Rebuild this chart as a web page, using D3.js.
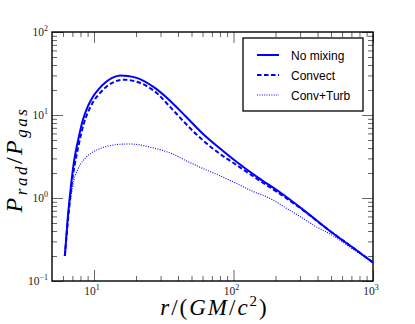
<!DOCTYPE html>
<html>
<head>
<meta charset="utf-8">
<script src="https://cdn.jsdelivr.net/npm/d3@7"></script>
<style>
  body { margin: 0; background: #fff; }
</style>
</head>
<body>
<script>
// values (r in GM/c^2, ratio P_rad/P_gas)
var rNoMix = [6.18, 6.5, 6.9, 7.2, 7.7, 8.3, 9.0, 9.8, 10.8, 12.0, 13.5, 15.4, 17.5, 20.5, 27, 34.6, 45, 60, 80, 105, 150, 214, 320, 491, 700, 1000];
var pNoMix = [0.2, 0.6, 1.6, 2.8, 5.0, 8.6, 12.5, 16.5, 20.5, 24.5, 28, 30, 29.6, 27.8, 21.5, 15.2, 9.8, 6.0, 3.95, 2.74, 1.76, 1.18, 0.71, 0.40, 0.26, 0.167];

var rConvect = [6.18, 6.55, 6.95, 7.3, 7.8, 8.4, 9.1, 9.9, 10.9, 12.1, 13.6, 16.4, 20.5, 27, 36.6, 45, 60, 80, 105, 160, 214, 320, 491, 700, 1000];
var pConvect = [0.2, 0.6, 1.55, 2.6, 4.5, 7.6, 11, 14.5, 18, 21.5, 24.5, 26.6, 25.0, 19.5, 11.6, 8.0, 5.0, 3.4, 2.5, 1.55, 1.13, 0.70, 0.40, 0.26, 0.167];

var rTurb = [6.18, 6.45, 6.84, 7.18, 7.6, 8.0, 8.7, 9.5, 10.5, 11.8, 13.5, 15.5, 17.9, 21, 24.5, 30, 36.6, 45, 60, 80, 105, 135, 182, 250, 320, 392, 491, 700, 1000];
var pTurb = [0.2, 0.55, 1.04, 1.65, 2.15, 2.55, 3.05, 3.45, 3.8, 4.1, 4.32, 4.45, 4.47, 4.38, 4.15, 3.8, 3.4, 2.85, 2.28, 1.85, 1.50, 1.22, 0.99, 0.72, 0.56, 0.45, 0.37, 0.25, 0.165];

var seriesNames = ["No mixing", "Convect", "Conv+Turb"];
var xMajor = [10, 100, 1000];
var xExp = ["1", "2", "3"];
var yMajor = [0.1, 1, 10, 100];
var yExp = ["\u22121", "0", "1", "2"];

var width = 415, height = 324;
var margin = {top: 32, right: 42, bottom: 43, left: 52};
var chartWidth = width - margin.left - margin.right;
var chartHeight = height - margin.top - margin.bottom;

var svg = d3.select("body").append("svg")
    .attr("width", width)
    .attr("height", height)
    .style("background", "#fff");

var chartGroup = svg.append("g")
    .attr("transform", `translate(${margin.left}, ${margin.top})`);

var xScale = d3.scaleLog().domain([5, 1000]).range([0, chartWidth]);
var yScale = d3.scaleLog().domain([0.1, 100]).range([chartHeight, 0]);

// minor ticks 2..9 in each decade
var xMinor = [];
[1, 10, 100].forEach(d => { for (var k = 2; k <= 9; k++) { var v = k * d; if (v > 5 && v < 1000 && v !== 10 && v !== 100) xMinor.push(v); } });
var yMinor = [];
[0.1, 1, 10].forEach(d => { for (var k = 2; k <= 9; k++) yMinor.push(k * d); });

function tickAxis(axisFn, scale, values, size, transform) {
  var g = chartGroup.append("g")
      .attr("transform", transform)
      .call(axisFn(scale).tickValues(values).tickSizeInner(size).tickSizeOuter(0).tickFormat(""));
  g.select(".domain").remove();
  g.selectAll(".tick line").attr("stroke", "#666").attr("stroke-width", 1);
  return g;
}

// inward ticks on all four sides
tickAxis(d3.axisBottom, xScale, xMajor, -11, `translate(0, ${chartHeight})`);
tickAxis(d3.axisBottom, xScale, xMinor, -5, `translate(0, ${chartHeight})`);
tickAxis(d3.axisTop, xScale, xMajor, -11, "translate(0, 0)");
tickAxis(d3.axisTop, xScale, xMinor, -5, "translate(0, 0)");
tickAxis(d3.axisLeft, yScale, yMajor, -11, "translate(0, 0)");
tickAxis(d3.axisLeft, yScale, yMinor, -5, "translate(0, 0)");
tickAxis(d3.axisRight, yScale, yMajor, -11, `translate(${chartWidth}, 0)`);
tickAxis(d3.axisRight, yScale, yMinor, -5, `translate(${chartWidth}, 0)`);

// tick labels as 10^n
var labelFont = "'Liberation Serif', 'DejaVu Serif', serif";
xMajor.forEach((v, i) => {
  var t = chartGroup.append("text")
      .attr("x", xScale(v) - 2)
      .attr("y", chartHeight + 14)
      .attr("text-anchor", "middle")
      .style("font-family", labelFont)
      .style("font-size", "11.5px")
      .attr("fill", "#222");
  t.append("tspan").text("10");
  t.append("tspan").attr("dy", -5).style("font-size", "8px").text(xExp[i]);
});
yMajor.forEach((v, i) => {
  var t = chartGroup.append("text")
      .attr("x", -4)
      .attr("y", yScale(v) + 4)
      .attr("text-anchor", "end")
      .style("font-family", labelFont)
      .style("font-size", "11.5px")
      .attr("fill", "#222");
  t.append("tspan").text("10");
  t.append("tspan").attr("dy", -5).style("font-size", "8px").text(yExp[i]);
});

// frame
chartGroup.append("rect")
    .attr("width", chartWidth)
    .attr("height", chartHeight)
    .attr("fill", "none")
    .attr("stroke", "#000")
    .attr("stroke-width", 1.4);

// curves
var line = d3.line()
    .x(d => xScale(d[0]))
    .y(d => yScale(d[1]))
    .curve(d3.curveMonotoneX);

var styles = [
  {w: 2, dash: null},
  {w: 2, dash: "4.5,2.5"},
  {w: 1.1, dash: "1,1.4"}
];
var curves = [d3.zip(rNoMix, pNoMix), d3.zip(rConvect, pConvect), d3.zip(rTurb, pTurb)];

chartGroup.selectAll(".curve")
    .data(curves)
    .enter().append("path")
    .attr("class", "curve")
    .attr("d", line)
    .attr("fill", "none")
    .attr("stroke", "#0000ff")
    .attr("stroke-width", (d, i) => styles[i].w)
    .attr("stroke-dasharray", (d, i) => styles[i].dash);

// legend
var legend = svg.append("g").attr("transform", "translate(243, 38)");
legend.append("rect")
    .attr("width", 120)
    .attr("height", 73)
    .attr("fill", "#fff")
    .attr("stroke", "#000")
    .attr("stroke-width", 1.3);
seriesNames.forEach((name, i) => {
  var y = 17 + i * 20;
  legend.append("line")
      .attr("x1", 14).attr("x2", 36)
      .attr("y1", y).attr("y2", y)
      .attr("stroke", "#0000ff")
      .attr("stroke-width", styles[i].w)
      .attr("stroke-dasharray", styles[i].dash);
  legend.append("text")
      .attr("x", 48)
      .attr("y", y + 4.5)
      .style("font-family", "'Liberation Sans', Arial, sans-serif")
      .style("font-size", "12px")
      .attr("fill", "#000")
      .text(name);
});

// axis titles
var xt = svg.append("text")
    .attr("x", margin.left + chartWidth / 2 + 2)
    .attr("y", 315)
    .attr("text-anchor", "middle")
    .style("font-family", labelFont)
    .style("font-size", "23px")
    .style("letter-spacing", "2px");
xt.append("tspan").style("font-style", "italic").text("r");
xt.append("tspan").text("/(");
xt.append("tspan").style("font-style", "italic").text("GM");
xt.append("tspan").text("/");
xt.append("tspan").style("font-style", "italic").text("c");
xt.append("tspan").attr("dy", -9).style("font-size", "15px").text("2");
xt.append("tspan").attr("dy", 9).text(")");

var yt = svg.append("text")
    .attr("transform", `translate(22, ${margin.top + chartHeight / 2 + 3}) rotate(-90)`)
    .attr("text-anchor", "middle")
    .style("font-family", labelFont)
    .style("font-size", "24px")
    .style("letter-spacing", "2.5px");
yt.append("tspan").style("font-style", "italic").text("P");
yt.append("tspan").attr("dy", 5).style("font-size", "17px").style("font-style", "italic").text("rad");
yt.append("tspan").attr("dy", -5).text("/");
yt.append("tspan").style("font-style", "italic").text("P");
yt.append("tspan").attr("dy", 5).style("font-size", "17px").style("font-style", "italic").text("gas");
</script>
</body>
</html>
